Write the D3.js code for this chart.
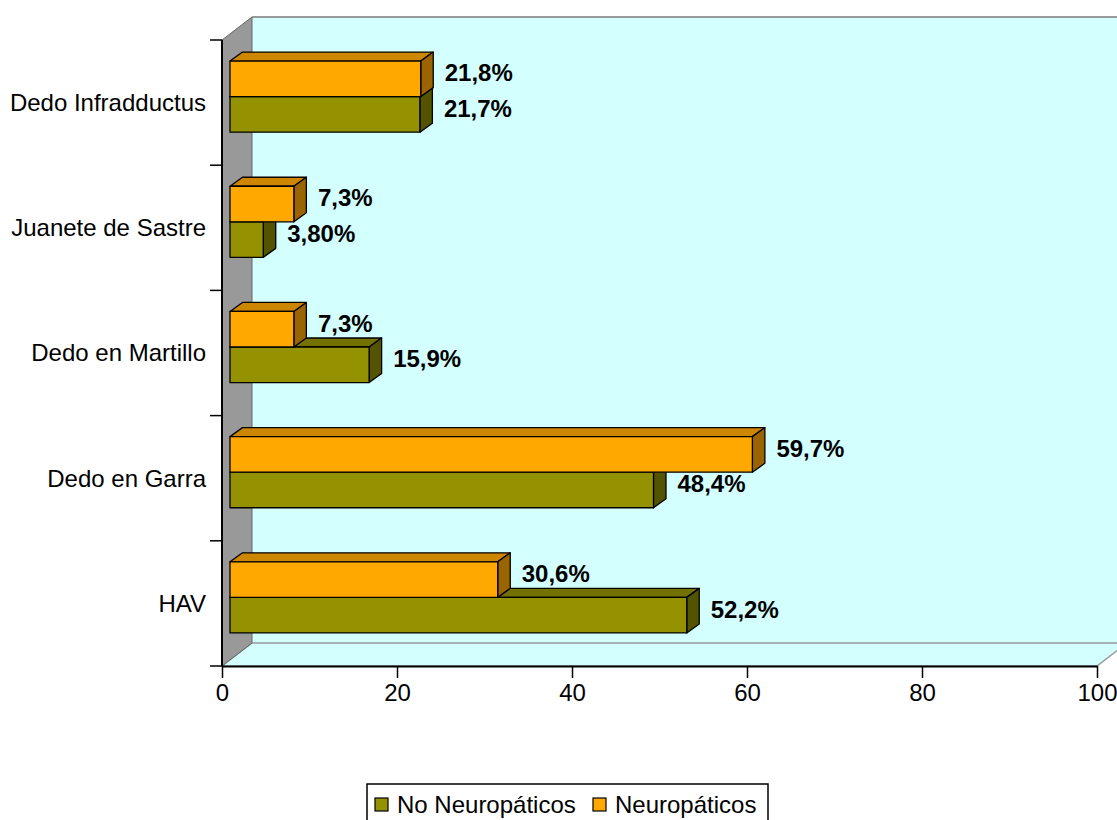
<!DOCTYPE html>
<html>
<head>
<meta charset="utf-8">
<script src="https://cdn.jsdelivr.net/npm/d3@7"></script>
<style>
  body { margin: 0; background: #fff; }
  svg { display: block; font-family: "Liberation Sans", Arial, sans-serif; }
</style>
</head>
<body>
<svg id="chart" width="1117" height="820"></svg>
<script>
// data, top category first
const categories = ['Dedo Infradductus', 'Juanete de Sastre', 'Dedo en Martillo', 'Dedo en Garra', 'HAV'];
const noNeuro = [21.7, 3.8, 15.9, 48.4, 52.2];
const neuro = [21.8, 7.3, 7.3, 59.7, 30.6];
const noNeuroLabels = ['21,7%', '3,80%', '15,9%', '48,4%', '52,2%'];
const neuroLabels = ['21,8%', '7,3%', '7,3%', '59,7%', '30,6%'];
const xTicks = [0, 20, 40, 60, 80, 100];
const seriesNames = ['No Neuropáticos', 'Neuropáticos'];

const colors = {
    green: { front: '#949200', top: '#737200', side: '#545300' },
    orange: { front: '#FFA800', top: '#CC8600', side: '#9A6400' }
};

const svg = d3.select('#chart');

const x = d3.scaleLinear().domain([0, 100]).range([222, 1097]);
const y = d3.scaleBand().domain(categories).range([40, 666]);
const inner = d3.scaleBand().domain(['neuro', 'noNeuro']).range([0, y.bandwidth()]).paddingOuter(0.76).paddingInner(0);

// depth of the 3d box and of the bars
const wallD = [30, -23];
const barOff = [8, -6];
const barD = [12.5, -9];

const yTop = y.range()[0], yBottom = y.range()[1];
const x0 = x(0), x1 = x(100);

// back wall
svg.append('rect')
    .attr('x', x0 + wallD[0]).attr('y', yTop + wallD[1])
    .attr('width', 1200).attr('height', yBottom - yTop)
    .attr('fill', '#D4FFFF');
svg.append('line')
    .attr('x1', x0 + wallD[0]).attr('x2', 1200)
    .attr('y1', yTop + wallD[1]).attr('y2', yTop + wallD[1])
    .attr('stroke', '#999').attr('stroke-width', 2);

// floor
svg.append('path')
    .attr('d', `M${x0},${yBottom}L${x0 + wallD[0]},${yBottom + wallD[1]}L${x1 + wallD[0]},${yBottom + wallD[1]}L${x1},${yBottom}Z`)
    .attr('fill', '#D4FFFF').attr('stroke', '#999').attr('stroke-width', 1.5);

// left wall
svg.append('path')
    .attr('d', `M${x0},${yTop}L${x0 + wallD[0]},${yTop + wallD[1]}L${x0 + wallD[0]},${yBottom + wallD[1]}L${x0},${yBottom}Z`)
    .attr('fill', '#999').attr('stroke', '#666').attr('stroke-width', 1);

// bars
function drawBar(g, cat, key, v, c) {
    const fx = x0 + barOff[0];
    const fy = y(cat) + inner(key) + barOff[1];
    const h = inner.bandwidth();
    const w = x(v) - x0;
    const [dx, dy] = barD;
    const add = (d, fill) => g.append('path')
        .attr('d', d)
        .attr('fill', fill)
        .attr('stroke', '#000')
        .attr('stroke-width', 1.3)
        .attr('stroke-linejoin', 'round');
    add(`M${fx},${fy}L${fx + dx},${fy + dy}L${fx + w + dx},${fy + dy}L${fx + w},${fy}Z`, c.top);
    add(`M${fx + w},${fy}L${fx + w + dx},${fy + dy}L${fx + w + dx},${fy + h + dy}L${fx + w},${fy + h}Z`, c.side);
    add(`M${fx},${fy}h${w}v${h}h${-w}Z`, c.front);
}

const bars = svg.append('g').attr('class', 'bars');
categories.forEach((cat, i) => {
    drawBar(bars, cat, 'noNeuro', noNeuro[i], colors.green);
    drawBar(bars, cat, 'neuro', neuro[i], colors.orange);
});

// value labels
const labelData = [];
categories.forEach((cat, i) => {
    labelData.push({ cat, key: 'neuro', v: neuro[i], t: neuroLabels[i] });
    labelData.push({ cat, key: 'noNeuro', v: noNeuro[i], t: noNeuroLabels[i] });
});
svg.append('g').selectAll('text')
    .data(labelData)
    .enter()
    .append('text')
    .attr('x', d => x(d.v) + barOff[0] + 24)
    .attr('y', d => y(d.cat) + inner(d.key) + inner.bandwidth() / 2 + barOff[1] - 6)
    .attr('dy', '0.35em')
    .attr('font-size', 24)
    .attr('font-weight', 'bold')
    .text(d => d.t);

// y axis
svg.append('line')
    .attr('x1', x0).attr('x2', x0).attr('y1', yTop).attr('y2', yBottom)
    .attr('stroke', '#000').attr('stroke-width', 2);
const bounds = categories.map(c => y(c)).concat([yBottom]);
svg.append('g').selectAll('line')
    .data(bounds)
    .enter()
    .append('line')
    .attr('x1', x0 - 12).attr('x2', x0)
    .attr('y1', d => d).attr('y2', d => d)
    .attr('stroke', '#000').attr('stroke-width', 1.5);
svg.append('g').selectAll('text')
    .data(categories)
    .enter()
    .append('text')
    .attr('x', 206)
    .attr('y', d => y(d) + y.bandwidth() / 2)
    .attr('dy', '0.35em')
    .attr('text-anchor', 'end')
    .attr('font-size', 24)
    .text(d => d);

// x axis
const xAxis = svg.append('g')
    .attr('transform', `translate(0,${yBottom})`)
    .call(d3.axisBottom(x).tickValues(xTicks).tickSize(12).tickPadding(6).tickSizeOuter(0));
xAxis.select('.domain').attr('stroke-width', 2);
xAxis.selectAll('.tick line').attr('stroke-width', 1.5);
xAxis.selectAll('.tick text')
    .attr('font-size', 24)
    .attr('font-family', '"Liberation Sans", Arial, sans-serif')
    .attr('fill', '#000');

// legend
const legend = svg.append('g').attr('transform', 'translate(367,784)');
legend.append('rect')
    .attr('width', 401).attr('height', 50)
    .attr('fill', '#fff').attr('stroke', '#000').attr('stroke-width', 1.5);
const legendItems = legend.selectAll('g')
    .data(seriesNames)
    .enter()
    .append('g')
    .attr('transform', (d, i) => `translate(${i === 0 ? 8 : 226},0)`);
legendItems.append('rect')
    .attr('x', 0).attr('y', 14).attr('width', 13).attr('height', 13)
    .attr('fill', (d, i) => i === 0 ? colors.green.front : colors.orange.front)
    .attr('stroke', '#000').attr('stroke-width', 1.2);
legendItems.append('text')
    .attr('x', 22).attr('y', 21)
    .attr('dy', '0.35em')
    .attr('font-size', 24)
    .text(d => d);
</script>
</body>
</html>
